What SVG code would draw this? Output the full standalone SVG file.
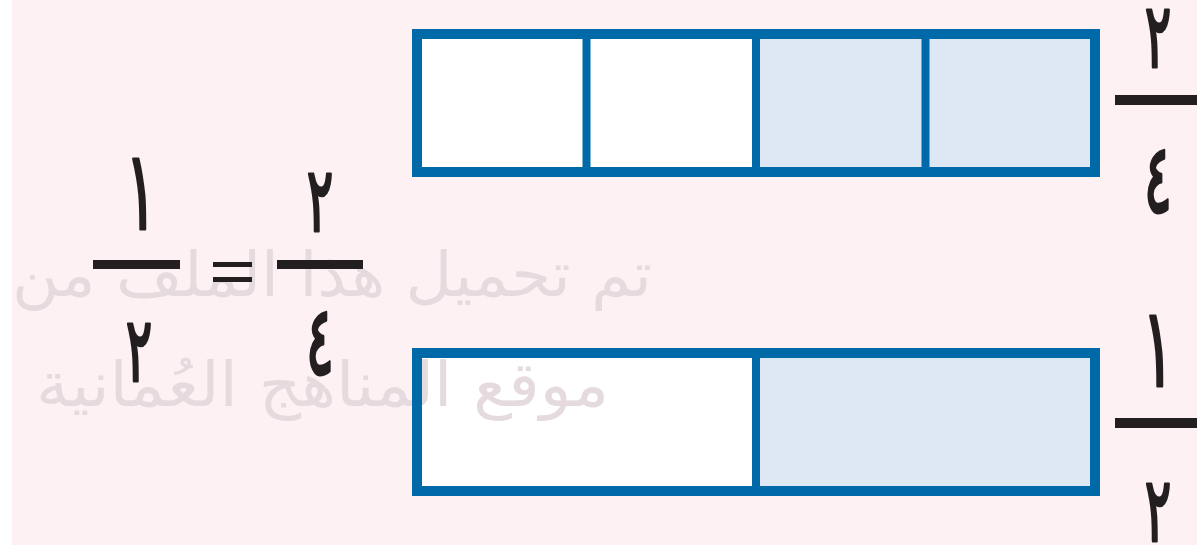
<svg xmlns="http://www.w3.org/2000/svg" width="1197" height="546" viewBox="0 0 1197 546">
<style>
.bg{fill:#fdf1f3}
.frame{fill:none;stroke:#006aa8;stroke-width:10}
.div{stroke:#006aa8;stroke-width:8}
.w{fill:#ffffff}
.s{fill:#dde8f4}
.bar{fill:#231f20}
.d{font-family:"DejaVu Sans",sans-serif;font-size:90px;fill:#231f20;stroke:#231f20;stroke-width:3;stroke-linejoin:round;text-anchor:middle}
.one{font-size:110px}
.four{font-size:96px}
.wm{font-family:"DejaVu Sans","Noto Sans",sans-serif;font-size:62px;fill:#e5dbde}
</style>
<rect x="0" y="0" width="1197" height="546" fill="#ffffff"/>
<rect class="bg" x="12" y="0" width="1185" height="545"/>
<g id="bar-quarters-fill">
<rect class="w" x="417" y="34" width="339" height="138"/>
<rect class="s" x="756" y="34" width="339" height="138"/>
</g>
<g id="bar-halves-fill">
<rect class="w" x="417" y="353" width="339" height="138"/>
<rect class="s" x="756" y="353" width="339" height="138"/>
</g>
<g id="watermark">
<text class="wm" x="652" y="296" text-anchor="start" direction="rtl" textLength="640" lengthAdjust="spacingAndGlyphs">تم تحميل هذا الملف من</text>
<text class="wm" x="609" y="406" text-anchor="start" direction="rtl" textLength="573" lengthAdjust="spacingAndGlyphs">موقع المناهج العُمانية</text>
</g>
<g id="bar-quarters">
<line class="div" x1="586.5" y1="34" x2="586.5" y2="172"/>
<line class="div" x1="756" y1="34" x2="756" y2="172"/>
<line class="div" x1="925.5" y1="34" x2="925.5" y2="172"/>
<rect class="frame" x="417" y="34" width="678" height="138"/>
</g>
<g id="bar-halves">
<line class="div" x1="756" y1="353" x2="756" y2="491"/>
<rect class="frame" x="417" y="353" width="678" height="138"/>
</g>
<g id="frac-right-top">
<text class="d" transform="translate(1158,67) scale(0.55,1)">٢</text>
<rect class="bar" x="1115" y="95" width="82" height="10"/>
<text class="d four" transform="translate(1158,212) scale(0.55,1)">٤</text>
</g>
<g id="frac-right-bottom">
<text class="d one" transform="translate(1158,386) scale(0.55,1)">١</text>
<rect class="bar" x="1115" y="418" width="82" height="10"/>
<text class="d" transform="translate(1158,541) scale(0.55,1)">٢</text>
</g>
<g id="equation">
<text class="d one" transform="translate(141,229) scale(0.55,1)">١</text>
<rect class="bar" x="93" y="260" width="87" height="9"/>
<text class="d" transform="translate(139,381) scale(0.55,1)">٢</text>
<rect class="bar" x="213" y="262" width="39" height="5"/>
<rect class="bar" x="213" y="277" width="39" height="5"/>
<text class="d" transform="translate(320,231) scale(0.55,1)">٢</text>
<rect class="bar" x="277" y="260" width="86" height="9"/>
<text class="d four" transform="translate(320,374) scale(0.55,1)">٤</text>
</g>
</svg>
